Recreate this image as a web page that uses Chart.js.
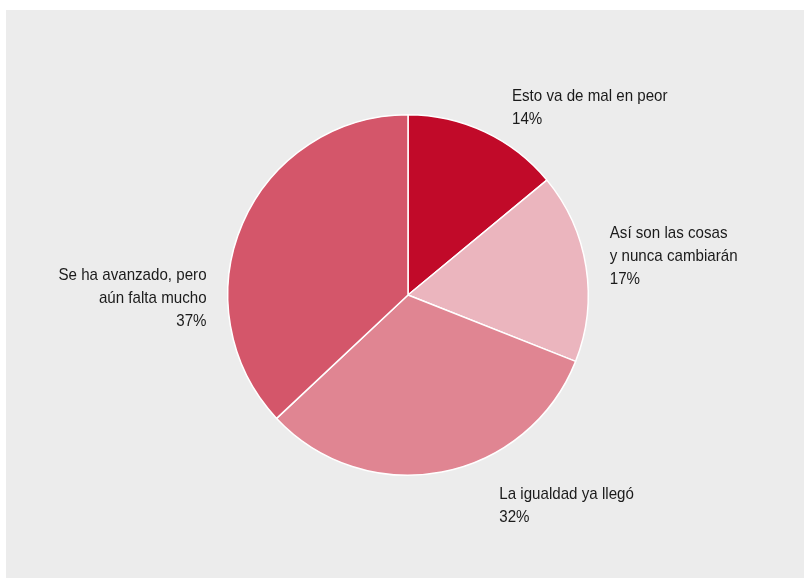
<!DOCTYPE html>
<html>
<head>
<meta charset="utf-8">
<script src="https://cdn.jsdelivr.net/npm/chart.js@4/dist/chart.umd.min.js"></script>
<style>
  html, body { margin: 0; padding: 0; background: #ffffff; }
  #panel { position: absolute; left: 6px; top: 10px; width: 798px; height: 568px; background: #ececec; }
  canvas { display: block; }
</style>
</head>
<body>
<div id="panel"><canvas id="pieChart" width="798" height="568"></canvas></div>
<script>
"use strict";

// data
var labels = [
    ["Esto va de mal en peor"],
    ["Así son las cosas", "y nunca cambiarán"],
    ["La igualdad ya llegó"],
    ["Se ha avanzado, pero", "aún falta mucho"]
];
var values = [14, 17, 32, 37];
var colors = ["#c10a29", "#ebb5be", "#e08592", "#d4566a"];

// label placement (relative to anchor just outside each slice)
var labelAlign = ["left", "left", "left", "right"];
var labelDx = [17, 0, 53, -14];
var labelDy = [-2, -7, 10, 84];

var sliceLabels = {
    id: "sliceLabels",
    afterDatasetsDraw: function (chart) {
        var ctx = chart.ctx;
        var arcs = chart.getDatasetMeta(0).data;
        var squeeze = 0.89; // fake a narrow face
        var lineH = 23;
        ctx.save();
        ctx.font = "17px 'Liberation Sans', Arial, sans-serif";
        ctx.fillStyle = "#1b1b1b";
        ctx.textBaseline = "middle";
        for (var i = 0; i < arcs.length; i++) {
            var a = arcs[i].getProps(["x", "y", "startAngle", "endAngle", "outerRadius"], true);
            var mid = (a.startAngle + a.endAngle) / 2;
            var r = a.outerRadius + 24;
            var x = a.x + Math.cos(mid) * r + labelDx[i];
            var y = a.y + Math.sin(mid) * r + labelDy[i];
            var lines = labels[i].concat([values[i] + "%"]);
            var top = y - (lines.length - 1) * lineH / 2;
            ctx.textAlign = labelAlign[i];
            for (var j = 0; j < lines.length; j++) {
                ctx.save();
                ctx.translate(x, top + j * lineH);
                ctx.scale(squeeze, 1);
                ctx.fillText(lines[j], 0, 0);
                ctx.restore();
            }
        }
        ctx.restore();
    }
};

var ctx = document.getElementById("pieChart");
var myChart = new Chart(ctx, {
    type: "pie",
    data: {
        labels: labels.map(function (l) { return l.join(" "); }),
        datasets: [{
            data: values,
            backgroundColor: colors,
            borderColor: "#ffffff",
            borderWidth: 1.5
        }]
    },
    options: {
        responsive: false,
        animation: false,
        layout: { padding: { top: 104, bottom: 102, left: 221, right: 215 } },
        plugins: {
            legend: { display: false },
            tooltip: { enabled: false }
        }
    },
    plugins: [sliceLabels]
});
</script>
</body>
</html>
